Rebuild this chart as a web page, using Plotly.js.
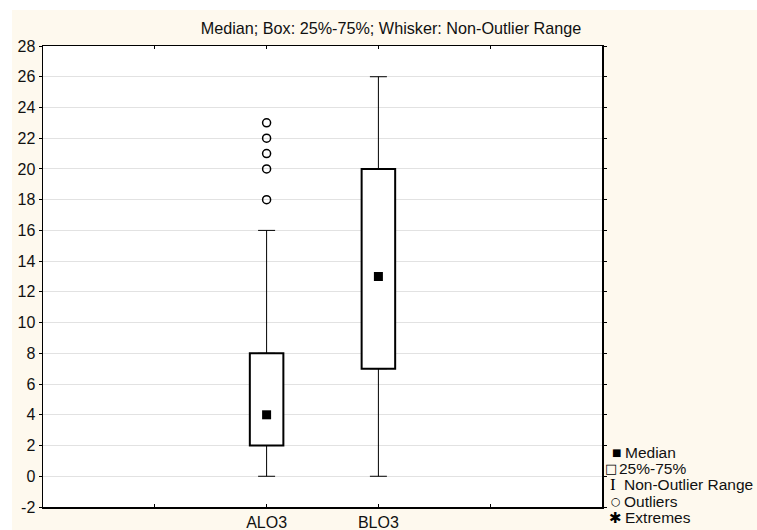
<!DOCTYPE html>
<html>
<head>
<meta charset="utf-8">
<script src="https://cdn.plot.ly/plotly-3.0.1.min.js"></script>
<style>
  html, body { margin: 0; padding: 0; background: #ffffff; width: 757px; height: 530px; overflow: hidden; }
  #chart { position: absolute; left: 12px; top: 10px; width: 745px; height: 520px; }
</style>
</head>
<body>
<div id="chart"></div>
<script>
// ---- data ----
const categories = ['ALO3', 'BLO3'];
const catPos = [2, 3];
const q1 = [2, 7];
const median = [4, 13];
const q3 = [8, 20];
const whiskerLow = [0, 0];
const whiskerHigh = [16, 26];
const outlierCat = ['ALO3', 'ALO3', 'ALO3', 'ALO3', 'ALO3'];
const outlierVal = [18, 20, 21, 22, 23];
const yTickVals = [-2, 0, 2, 4, 6, 8, 10, 12, 14, 16, 18, 20, 22, 24, 26, 28];
const yTickLabels = ['-2', '0', '2', '4', '6', '8', '10', '12', '14', '16', '18', '20', '22', '24', '26', '28'];
const legendLabels = ['Median', '25%-75%', 'Non-Outlier Range', 'Outliers', 'Extremes'];
const legendSymbols = ['\u25A0', '\u25A1', 'I', '\u25CB', '\u2731'];
const chartTitle = 'Median; Box: 25%-75%; Whisker: Non-Outlier Range';

const posOf = c => catPos[categories.indexOf(c)];
const FONT = 'Liberation Sans, Arial, sans-serif';

const boxTrace = {
  type: 'bar', x: catPos, base: q1, y: q3.map((v, i) => v - q1[i]),
  width: 0.3,
  marker: { color: '#ffffff', line: { color: '#000000', width: 2 } },
  hoverinfo: 'skip', showlegend: false
};
const upperWhisker = {
  type: 'scatter', mode: 'markers', x: catPos, y: q3,
  marker: { size: 1, opacity: 0 },
  error_y: { type: 'data', symmetric: false, array: whiskerHigh.map((v, i) => v - q3[i]),
             arrayminus: q3.map(() => 0), color: '#000000', thickness: 1, width: 8.5 },
  hoverinfo: 'skip', showlegend: false
};
const lowerWhisker = {
  type: 'scatter', mode: 'markers', x: catPos, y: q1,
  marker: { size: 1, opacity: 0 },
  error_y: { type: 'data', symmetric: false, array: q1.map(() => 0),
             arrayminus: q1.map((v, i) => v - whiskerLow[i]), color: '#000000', thickness: 1, width: 8.5 },
  hoverinfo: 'skip', showlegend: false
};
const medianTrace = {
  type: 'scatter', mode: 'markers', x: catPos, y: median,
  marker: { symbol: 'square', size: 9, color: '#000000' },
  showlegend: false
};
const outlierTrace = {
  type: 'scatter', mode: 'markers', x: outlierCat.map(posOf), y: outlierVal,
  marker: { symbol: 'circle-open', size: 8, color: '#000000', line: { width: 1.5, color: '#000000' } },
  showlegend: false
};

// ---- legend drawn as annotations (positions in page pixels -> paper) ----
const ML = 31, MT = 36, PW = 559, PH = 461, OX = 12, OY = 10;
const px = x => (x - OX - ML) / PW;
const py = y => (MT + PH - (y - OY)) / PH;
const rowY = [452, 468, 484.5, 501, 517.5];
const symX = [616.5, 611, 612.5, 615.5, 615.5];
const symSize = [10, 13, 17, 11, 15];
const symFont = ['DejaVu Sans', 'DejaVu Sans', 'Liberation Serif', 'DejaVu Sans', 'DejaVu Sans'];
const txtX = [622.5, 617, 621.5, 621.5, 622.5];
const annotations = [];
legendLabels.forEach((lab, i) => {
  annotations.push({ xref: 'paper', yref: 'paper', x: px(symX[i]), y: py(rowY[i]),
    xanchor: 'center', yanchor: 'middle', showarrow: false, text: legendSymbols[i],
    font: { family: symFont[i], size: symSize[i], color: '#000000' } });
  annotations.push({ xref: 'paper', yref: 'paper', x: px(txtX[i]), y: py(rowY[i]),
    xanchor: 'left', yanchor: 'middle', showarrow: false, text: lab,
    font: { family: FONT, size: 15.5, color: '#111111' } });
});

const layout = {
  width: 745, height: 520,
  margin: { l: ML, r: 745 - ML - PW, t: MT, b: 520 - MT - PH, pad: 0 },
  paper_bgcolor: '#fef9ee', plot_bgcolor: '#ffffff',
  font: { family: FONT, size: 15.5, color: '#111111' },
  showlegend: false,
  title: { text: chartTitle, xref: 'container', yref: 'container',
           x: (391 - OX) / 745, xanchor: 'center', y: 1 - (28 - OY) / 520, yanchor: 'middle',
           font: { family: FONT, size: 16.2, color: '#111111' } },
  xaxis: {
    range: [0, 5], tickmode: 'array', tickvals: [1, 2, 3, 4], ticktext: ['', categories[0], categories[1], ''],
    ticks: 'inside', ticklen: 3, tickcolor: '#000000', tickwidth: 1,
    showline: true, linecolor: '#000000', linewidth: 1.5, mirror: 'ticks',
    showgrid: false, zeroline: false, fixedrange: true,
    tickfont: { family: FONT, size: 16, color: '#111111' }
  },
  yaxis: {
    range: [-2, 28], tickmode: 'array', tickvals: yTickVals, ticktext: yTickLabels,
    ticks: 'outside', ticklen: 3, tickcolor: '#000000', tickwidth: 1,
    showline: true, linecolor: '#000000', linewidth: 1.5, mirror: 'ticks',
    showgrid: true, gridcolor: '#e2e2e2', gridwidth: 1, zeroline: false, fixedrange: true,
    tickfont: { family: FONT, size: 16, color: '#111111' }
  },
  bargap: 0,
  annotations: annotations
};

Plotly.newPlot('chart', [boxTrace, upperWhisker, lowerWhisker, medianTrace, outlierTrace], layout,
  { displayModeBar: false, staticPlot: true });
</script>
</body>
</html>
